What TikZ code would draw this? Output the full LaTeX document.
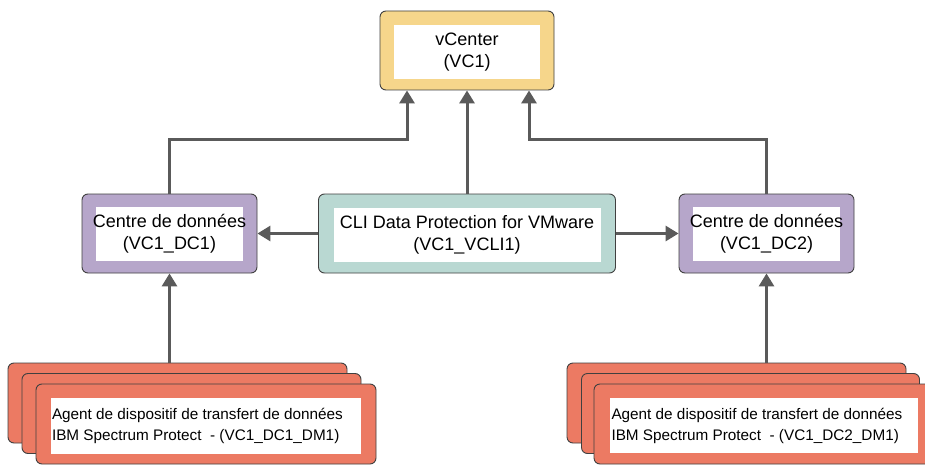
\documentclass[tikz,border=0pt]{standalone}
\usepackage{fontspec}
\setmainfont{Liberation Sans}
\usetikzlibrary{arrows.meta,positioning}
\definecolor{vcfill}{HTML}{F6D68B}
\definecolor{dcfill}{HTML}{B6A6CA}
\definecolor{clifill}{HTML}{B9D8D2}
\definecolor{dmfill}{HTML}{EC7A63}
\definecolor{bordercol}{HTML}{404040}
\definecolor{arrcol}{HTML}{5A5A5A}
\tikzset{
  outerbox/.style={draw=bordercol, line width=0.9pt, rounded corners=6pt, inner sep=0pt},
  whitebox/.style={fill=white, draw=none, inner sep=0pt},
  mainlabel/.style={inner sep=0pt, align=center, font=\fontsize{18}{21.7}\selectfont},
  dmlabel/.style={inner sep=0pt, align=left, anchor=west, font=\fontsize{15.3}{21}\selectfont},
  arr/.style={draw=arrcol, line width=3pt, -{Triangle[width=15pt,length=13pt]}}
}
\begin{document}
\begin{tikzpicture}[x=1pt,y=-1pt]
\useasboundingbox (0,0) rectangle (925,465);
\fill[white] (0,0) rectangle (925,465);

% vCenter
\node[outerbox, fill=vcfill, minimum width=174pt, minimum height=79pt] (vc) at (467,50.5) {};
\node[whitebox, minimum width=146pt, minimum height=54pt] (vcw) at (467,52) {};
\node[mainlabel] (vct) at (vcw.center) {vCenter\\(VC1)};

% DC1
\node[outerbox, fill=dcfill, minimum width=175pt, minimum height=79pt] (dc1) at (169.5,233.5) {};
\node[whitebox, minimum width=147pt, minimum height=54pt] (dc1w) at (169.5,234) {};
\node[mainlabel] (dc1t) at (dc1w.center) {Centre de données\\(VC1\_DC1)};

% DC2
\node[outerbox, fill=dcfill, minimum width=175pt, minimum height=79pt] (dc2) at (766.5,233.5) {};
\node[whitebox, minimum width=147pt, minimum height=54pt] (dc2w) at (766.5,234) {};
\node[mainlabel] (dc2t) at (dc2w.center) {Centre de données\\(VC1\_DC2)};

% CLI
\node[outerbox, fill=clifill, minimum width=297pt, minimum height=79pt] (cli) at (467,233.5) {};
\node[whitebox, minimum width=267pt, minimum height=54pt] (cliw) at (467,235) {};
\node[mainlabel] (clit) at (cliw.center) {CLI Data Protection for VMware\\(VC1\_VCLI1)};

% DM left stack
\node[outerbox, fill=dmfill, minimum width=339pt, minimum height=80pt] (dmla) at (177.5,403) {};
\node[outerbox, fill=dmfill, minimum width=339pt, minimum height=80pt] (dmlb) at (191.5,413.5) {};
\node[outerbox, fill=dmfill, minimum width=340pt, minimum height=80pt] (dmlc) at (206,424) {};
\node[whitebox, minimum width=310pt, minimum height=56pt] (dmlw) at (206,426) {};
\node[dmlabel] (dmlt) at ([xshift=1pt]dmlw.west) {Agent de dispositif de transfert de données\\IBM Spectrum Protect~~- (VC1\_DC1\_DM1)};

% DM right stack
\node[outerbox, fill=dmfill, minimum width=339pt, minimum height=80pt] (dmra) at (736.5,403) {};
\node[outerbox, fill=dmfill, minimum width=338pt, minimum height=80pt] (dmrb) at (750.5,413.5) {};
\node[outerbox, fill=dmfill, minimum width=340pt, minimum height=80pt] (dmrc) at (764,424) {};
\node[whitebox, minimum width=308pt, minimum height=55pt] (dmrw) at (764,425.5) {};
\node[dmlabel] (dmrt) at ([xshift=1.5pt]dmrw.west) {Agent de dispositif de transfert de données\\IBM Spectrum Protect~~- (VC1\_DC2\_DM1)};

% connectors
\draw[arr] (cli.north) -- (vc.south);
\draw[arr] (dc1.north) -- ++(0,-54) -| ([xshift=-60pt]vc.south);
\draw[arr] (dc2.north) -- ++(0,-54) -| ([xshift=62pt]vc.south);
\draw[arr] (cli.west) -- (dc1.east);
\draw[arr] (cli.east) -- (dc2.west);
\draw[arr] (dc1.south |- dmla.north) -- (dc1.south);
\draw[arr] (dc2.south |- dmra.north) -- (dc2.south);
\end{tikzpicture}
\end{document}
